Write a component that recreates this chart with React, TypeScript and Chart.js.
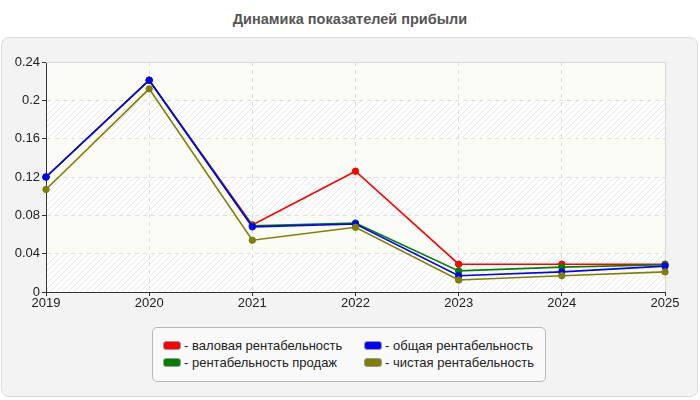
import React, { useEffect, useRef } from "react";
import { Chart, registerables } from "chart.js";

Chart.register(...registerables);

// Years on the horizontal axis
const years = ["2019", "2020", "2021", "2022", "2023", "2024", "2025"];

// Profitability indicators by year
const grossMargin = [0.12, 0.221, 0.07, 0.126, 0.029, 0.029, 0.029];
const salesMargin = [0.12, 0.221, 0.069, 0.072, 0.022, 0.026, 0.0285];
const totalMargin = [0.12, 0.221, 0.068, 0.071, 0.017, 0.021, 0.027];
const netMargin = [0.107, 0.212, 0.054, 0.0675, 0.0125, 0.017, 0.021];

// Value axis tick labels
const yTicks = [0, 0.04, 0.08, 0.12, 0.16, 0.2, 0.24];

const titleText = "Динамика показателей прибыли";

const seriesNames = [
  "валовая рентабельность",
  "общая рентабельность",
  "рентабельность продаж",
  "чистая рентабельность",
];
const seriesColors = ["#ff0000", "#0000ff", "#008000", "#808000"];
const seriesValues = [grossMargin, totalMargin, salesMargin, netMargin];
// lower number is drawn on top
const seriesOrder = [3, 1, 2, 0];

const FONT = "Arial, 'Liberation Sans', sans-serif";

function makeHatch(): CanvasPattern | string {
  const c = document.createElement("canvas");
  c.width = 6;
  c.height = 6;
  const g = c.getContext("2d");
  if (!g) return "#ffffff";
  g.fillStyle = "#ffffff";
  g.fillRect(0, 0, 6, 6);
  g.strokeStyle = "#e8e8e8";
  g.lineWidth = 1;
  g.beginPath();
  g.moveTo(0, 6);
  g.lineTo(6, 0);
  g.moveTo(-3, 3);
  g.lineTo(3, -3);
  g.moveTo(3, 9);
  g.lineTo(9, 3);
  g.stroke();
  const p = g.createPattern(c, "repeat");
  return p || "#ffffff";
}

// Banded, hatched plot background and light frame on the top/right sides
const plotBackground = {
  id: "plotBackground",
  beforeDraw(chart: any) {
    const { ctx, chartArea, scales } = chart;
    const y = scales.y;
    ctx.save();
    ctx.fillStyle = "#fcfcf6";
    ctx.fillRect(chartArea.left, chartArea.top, chartArea.right - chartArea.left, chartArea.bottom - chartArea.top);
    const hatch = makeHatch();
    for (let i = 0; i < yTicks.length - 1; i++) {
      if (i % 2 !== 0) continue;
      const top = y.getPixelForValue(yTicks[i + 1]);
      const bottom = y.getPixelForValue(yTicks[i]);
      ctx.fillStyle = hatch;
      ctx.fillRect(chartArea.left, top, chartArea.right - chartArea.left, bottom - top);
    }
    ctx.restore();
  },
  beforeDatasetsDraw(chart: any) {
    const { ctx, chartArea } = chart;
    ctx.save();
    ctx.strokeStyle = "#d8d8d8";
    ctx.lineWidth = 1;
    ctx.beginPath();
    ctx.moveTo(chartArea.left, chartArea.top + 0.5);
    ctx.lineTo(chartArea.right + 0.5, chartArea.top + 0.5);
    ctx.lineTo(chartArea.right + 0.5, chartArea.bottom);
    ctx.stroke();
    ctx.restore();
  },
};

export default function App() {
  const canvasRef = useRef<HTMLCanvasElement | null>(null);

  useEffect(() => {
    if (!canvasRef.current) return;
    const chart = new Chart(canvasRef.current, {
      type: "line",
      data: {
        labels: years,
        datasets: seriesNames.map((name, i) => ({
          label: name,
          data: seriesValues[i],
          borderColor: seriesColors[i],
          backgroundColor: seriesColors[i],
          pointBackgroundColor: seriesColors[i],
          pointBorderColor: seriesColors[i],
          borderWidth: 1.6,
          pointRadius: 3.2,
          pointBorderWidth: 1,
          tension: 0,
          fill: false,
          order: seriesOrder[i],
        })),
      },
      options: {
        responsive: false,
        animation: false,
        layout: { padding: { left: 0, right: 35, top: 62, bottom: 88 } },
        plugins: {
          legend: { display: false },
          title: { display: false },
          tooltip: { enabled: false },
        },
        scales: {
          x: {
            offset: false,
            afterFit: (scale: any) => {
              scale.height = 20;
            },
            border: { display: true, color: "#333333", width: 1, dash: [4, 4] },
            grid: {
              color: "#dddddd",
              tickBorderDash: [],
              tickColor: "#333333",
              tickLength: 4,
              drawTicks: true,
            },
            ticks: { color: "#222222", font: { family: FONT, size: 13 }, padding: 0, maxRotation: 0 },
          },
          y: {
            min: 0,
            max: 0.24,
            afterFit: (scale: any) => {
              scale.width = 46;
            },
            afterBuildTicks: (scale: any) => {
              scale.ticks = yTicks.map((v) => ({ value: v }));
            },
            border: { display: true, color: "#333333", width: 1, dash: [4, 4] },
            grid: {
              color: "#dddddd",
              tickBorderDash: [],
              tickColor: "#333333",
              tickLength: 4,
              drawTicks: true,
            },
            ticks: {
              color: "#222222",
              font: { family: FONT, size: 13 },
              padding: 2,
              callback: (v: any) => String(v),
            },
          },
        },
      },
      plugins: [plotBackground],
    });
    return () => chart.destroy();
  }, []);

  const legendOrder = [0, 1, 2, 3];

  return (
    <div style={{ position: "fixed", left: 0, top: 0, width: 700, height: 400, background: "#ffffff", fontFamily: FONT }}>
      <div
        style={{
          position: "absolute",
          left: 0,
          top: 11,
          width: 700,
          textAlign: "center",
          fontWeight: "bold",
          fontSize: 14.5,
          color: "#555555",
        }}
      >
        {titleText}
      </div>
      <div
        style={{
          position: "absolute",
          left: 1,
          top: 37,
          width: 695,
          height: 358,
          background: "#f3f3f3",
          border: "1px solid #dddddd",
          borderRadius: 8,
        }}
      />
      <canvas ref={canvasRef} width={700} height={400} style={{ position: "absolute", left: 0, top: 0 }} />
      <div
        style={{
          position: "absolute",
          left: 152,
          top: 327,
          width: 394,
          height: 55,
          background: "#f9f9f9",
          border: "1px solid #b8b8b8",
          borderRadius: 5,
          boxSizing: "border-box",
          display: "grid",
          gridTemplateColumns: "201px 180px",
          gridAutoRows: "17px",
          padding: "9px 0 0 10px",
          fontSize: 13,
          color: "#222222",
        }}
      >
        {legendOrder.map((i) => (
          <div key={i} style={{ display: "flex", alignItems: "center", whiteSpace: "nowrap" }}>
            <span
              style={{
                display: "inline-block",
                width: 16,
                height: 7,
                background: seriesColors[i],
                border: "1px solid #999999",
                borderRadius: 3,
                marginRight: 3,
              }}
            />
            <span>- {seriesNames[i]}</span>
          </div>
        ))}
      </div>
    </div>
  );
}
